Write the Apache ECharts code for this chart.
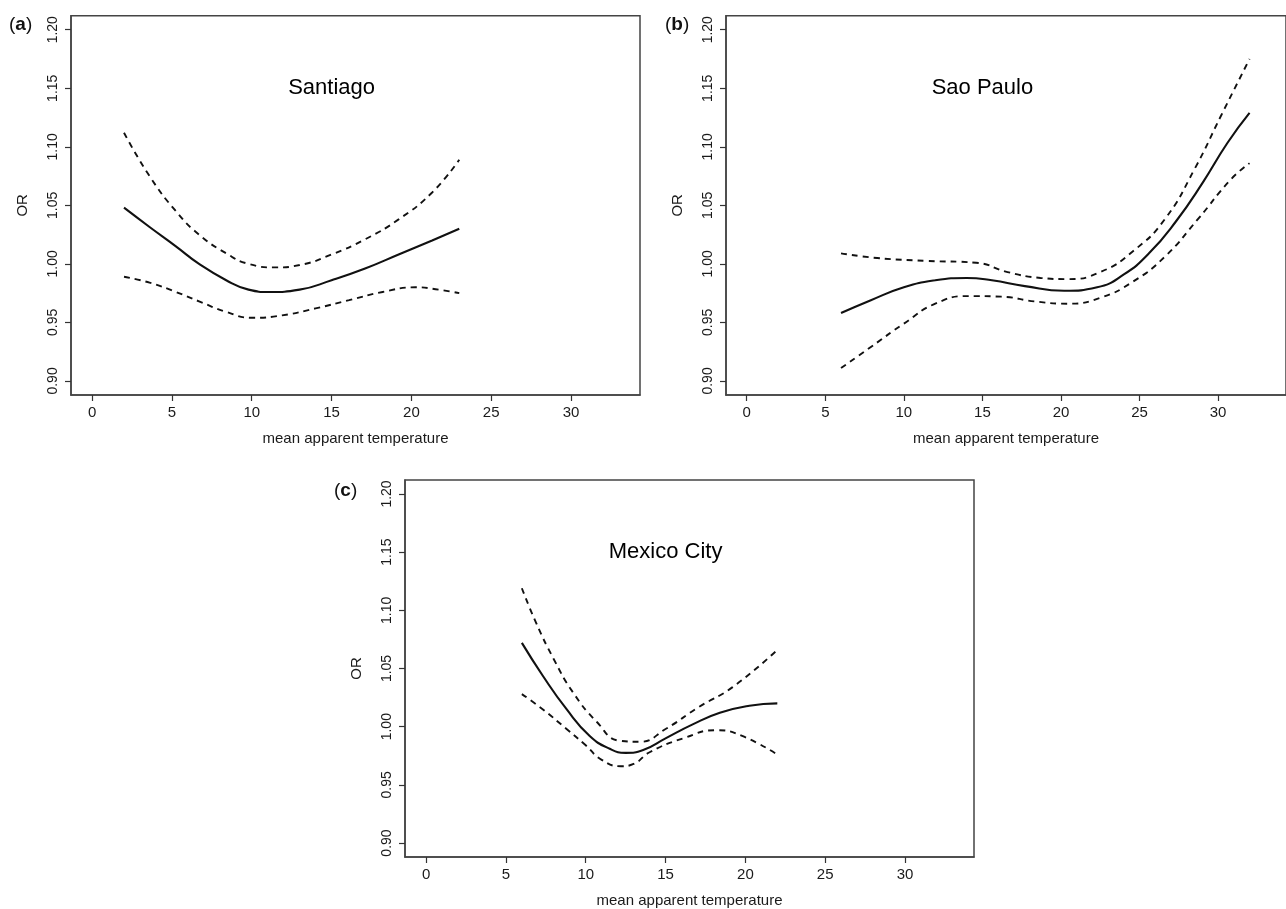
<!DOCTYPE html>
<html>
<head>
<meta charset="utf-8">
<script src="https://cdn.jsdelivr.net/npm/echarts@6/dist/echarts.min.js"></script>
<style>
html,body{margin:0;padding:0;background:#fff;overflow:hidden;}
#chart{width:1286px;height:909px;}
</style>
</head>
<body>
<div id="chart"></div>
<script>
// ---- tick labels ----
const xTicks = [0, 5, 10, 15, 20, 25, 30];
const yTicks = [0.90, 0.95, 1.00, 1.05, 1.10, 1.15, 1.20];
const panelTags = ['a', 'b', 'c'];
const cityNames = ['Santiago', 'Sao Paulo', 'Mexico City'];

// ---- (a) Santiago ----
const santiagoX    = [2, 3.6, 5.25, 6.7, 8.4, 9.8, 11.1, 13, 15, 17.1, 19.2, 21.3, 23];
const santiagoOR   = [1.048, 1.0315, 1.015, 1.000, 0.986, 0.978, 0.976, 0.978, 0.986, 0.996, 1.008, 1.020, 1.030];
const santiagoUpX  = [2, 3.6, 5.25, 6.7, 8.4, 9.8, 11.5, 13, 15, 17.1, 19.2, 21.3, 23];
const santiagoUp   = [1.112, 1.075, 1.045, 1.025, 1.009, 1.000, 0.997, 0.999, 1.008, 1.021, 1.038, 1.061, 1.089];
const santiagoLoX  = [2, 3.6, 5.25, 6.7, 8.4, 10, 11.9, 14, 16.1, 18.2, 20.25, 21.7, 23];
const santiagoLo   = [0.989, 0.984, 0.976, 0.968, 0.959, 0.954, 0.956, 0.962, 0.969, 0.976, 0.980, 0.978, 0.975];

// ---- (b) Sao Paulo ----
const saoPauloX    = [6, 7.9, 10, 12, 14, 15.6, 17.7, 20.2, 22.3, 24, 25.6, 27.3, 29, 30.6, 32];
const saoPauloOR   = [0.958, 0.969, 0.980, 0.986, 0.988, 0.986, 0.981, 0.977, 0.980, 0.991, 1.009, 1.036, 1.069, 1.1035, 1.129];
const saoPauloUpX  = [6, 8.3, 11.4, 14.6, 16.6, 18.7, 20.4, 22.5, 24.6, 26.6, 28.5, 30.2, 32];
const saoPauloUp   = [1.009, 1.005, 1.0026, 1.001, 0.993, 0.988, 0.987, 0.993, 1.011, 1.038, 1.081, 1.127, 1.175];
const saoPauloLoX  = [6, 7.9, 10, 12, 14.1, 16.2, 18.3, 20.4, 22.5, 24.6, 26.6, 28.7, 30.8, 32];
const saoPauloLo   = [0.911, 0.929, 0.949, 0.966, 0.9725, 0.972, 0.968, 0.966, 0.971, 0.985, 1.006, 1.038, 1.072, 1.086];

// ---- (c) Mexico City ----
const mexicoX      = [6, 7.3, 8.8, 10.25, 11.5, 12.5, 13.6, 15, 16.7, 18.4, 20.25, 22];
const mexicoOR     = [1.072, 1.044, 1.015, 0.992, 0.981, 0.9775, 0.980, 0.990, 1.002, 1.012, 1.018, 1.020];
const mexicoUpX    = [6, 6.9, 8, 9.2, 10.7, 12.1, 13.4, 15, 17.1, 19.2, 22];
const mexicoUp     = [1.119, 1.089, 1.058, 1.0295, 1.004, 0.988, 0.987, 0.998, 1.017, 1.034, 1.066];
const mexicoLoX    = [6, 7.3, 8.8, 10, 11, 12.2, 13, 14, 16.1, 18.2, 19.8, 22];
const mexicoLo     = [1.028, 1.015, 0.998, 0.984, 0.9715, 0.966, 0.968, 0.978, 0.990, 0.997, 0.992, 0.976];

const panels = [
  {mid:[santiagoX, santiagoOR], up:[santiagoUpX, santiagoUp], lo:[santiagoLoX, santiagoLo]},
  {mid:[saoPauloX, saoPauloOR], up:[saoPauloUpX, saoPauloUp], lo:[saoPauloLoX, saoPauloLo]},
  {mid:[mexicoX, mexicoOR], up:[mexicoUpX, mexicoUp], lo:[mexicoLoX, mexicoLo]}
];

const FONT = '"Liberation Sans", Arial, Helvetica, sans-serif';
const INK = '#1a1a1a';
const BOX = '#444';

const grids = [
  {left:71,  top:15.7, width:569, height:379.3},
  {left:726, top:15.7, width:569, height:379.3},
  {left:405, top:480,  width:569, height:379.3}
].map(g => Object.assign(g, {show:true, borderColor:BOX, borderWidth:1.5, backgroundColor:'transparent'}));

const xAxes = grids.map((g, i) => ({
  type:'value', gridIndex:i, min:-1.32, max:34.32,
  splitLine:{show:false},
  axisLine:{show:true, onZero:false, lineStyle:{color:BOX, width:1.5}},
  axisTick:{show:true, inside:false, customValues:xTicks, length:6, lineStyle:{color:'#333', width:1.2}},
  axisLabel:{customValues:xTicks, fontSize:15, color:INK, margin:10, fontFamily:FONT},
  name:'mean apparent temperature', nameLocation:'middle', nameGap:36,
  nameTextStyle:{fontSize:15, color:INK, fontFamily:FONT}
}));

const yAxes = grids.map((g, i) => ({
  type:'value', gridIndex:i, min:0.888, max:1.212,
  splitLine:{show:false},
  axisLine:{show:true, onZero:false, lineStyle:{color:BOX, width:1.5}},
  axisTick:{show:true, inside:false, customValues:yTicks, length:6, lineStyle:{color:'#333', width:1.2}},
  axisLabel:{customValues:yTicks, rotate:90, fontSize:14, color:INK, margin:11, fontFamily:FONT,
             formatter: v => Number(v).toFixed(2)},
  name:'OR', nameLocation:'middle', nameGap:41,
  nameTextStyle:{fontSize:15, color:INK, fontFamily:FONT}
}));

function lineSeries(i, xs, ys, dashed) {
  return {
    type:'line', xAxisIndex:i, yAxisIndex:i,
    data: xs.map((x, k) => [x, ys[k]]),
    symbol:'none', showSymbol:false, smooth:0.5, silent:true,
    lineStyle:{color:'#111', width: dashed ? 1.9 : 2.1, type: dashed ? [6, 5] : 'solid'},
    z:3
  };
}

const series = [];
panels.forEach((p, i) => {
  series.push(lineSeries(i, p.mid[0], p.mid[1], false));
  series.push(lineSeries(i, p.up[0], p.up[1], true));
  series.push(lineSeries(i, p.lo[0], p.lo[1], true));
  series.push({
    type:'scatter', xAxisIndex:i, yAxisIndex:i, data:[[15, 1.15]],
    symbolSize:1, itemStyle:{color:'#fff', opacity:0}, silent:true,
    label:{show:true, position:'inside', formatter: cityNames[i], fontSize:22, color:'#000',
           textBorderWidth:0, opacity:1, fontFamily:FONT}
  });
});

const tagPos = [[9, 26], [665, 26], [334, 492]];
const graphic = panelTags.map((t, i) => ({
  type:'text', left:tagPos[i][0], top:tagPos[i][1] - 11,
  style:{
    text:'{p|(}{b|' + t + '}{p|)}',
    rich:{
      p:{fontSize:19, fontFamily:FONT, fill:'#111'},
      b:{fontSize:19, fontFamily:FONT, fontWeight:'bold', fill:'#111'}
    }
  }
}));

const chart = echarts.init(document.getElementById('chart'), null, {renderer:'canvas'});
chart.setOption({
  animation:false,
  backgroundColor:'#fff',
  grid: grids,
  xAxis: xAxes,
  yAxis: yAxes,
  series: series,
  graphic: graphic
});
</script>
</body>
</html>
